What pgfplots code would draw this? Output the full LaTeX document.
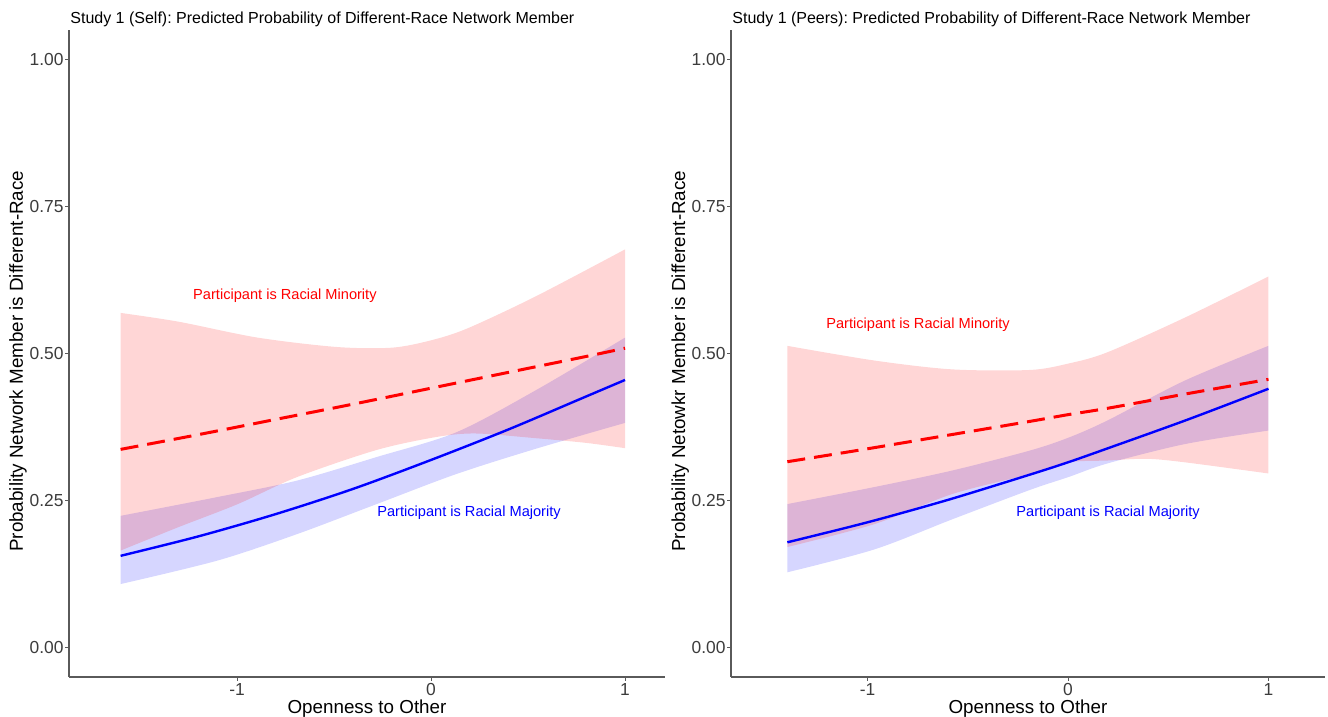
\documentclass[border=0pt]{standalone}
\usepackage{pgfplots}
\pgfplotsset{compat=1.18}
\usepgfplotslibrary{fillbetween}
\usepackage{fontspec}
\setmainfont{Liberation Sans}
\frenchspacing
\definecolor{axgray}{RGB}{90,90,90}
\definecolor{ticktext}{RGB}{60,60,60}
\pgfplotsset{
  ggstyle/.style={
    scale only axis,
    width=298pt, height=323.5pt,
    ymin=-0.05, ymax=1.05,
    axis x line*=bottom, axis y line*=left,
    axis line style={axgray, line width=0.6pt, -},
    tick align=outside,
    major tick length=2pt,
    tick style={axgray, line width=0.5pt},
    ytick={0,0.25,0.5,0.75,1},
    xtick={-1,0,1},
    yticklabel={\pgfmathprintnumber[fixed,fixed zerofill,precision=2]{\tick}},
    /pgf/number format/assume math mode=true,
    ticklabel style={font=\fontsize{8.7}{10}\selectfont, text=ticktext},
    yticklabel style={xshift=2.8pt},
    xticklabel style={yshift=2.3pt},
    every axis x label/.style={at={(axis description cs:0.5,-0.049)}, anchor=center, font=\fontsize{9.4}{11}\selectfont},
    every axis y label/.style={at={(axis description cs:-0.0856,0.488)}, rotate=90, anchor=center, font=\fontsize{9.4}{11}\selectfont},
    every axis title shift=0pt,
    title style={at={(axis description cs:0,1)}, anchor=base west, yshift=3pt, xshift=0.5pt, inner sep=0pt, font=\fontsize{8}{9.5}\selectfont},
    clip=false,
  }
}
\begin{document}
\begin{tikzpicture}[x=1pt,y=1pt]
% ---------------- Left panel ----------------
\begin{axis}[ggstyle, at={(34.5pt,20pt)}, anchor=south west,
  xmin=-1.866, xmax=1.206,
  title={Study 1 (Self): Predicted Probability of Different-Race Network Member},
  xlabel={Openness to Other},
  ylabel={Probability Network Member is Different-Race}]
\addplot[draw=none, name path=BU, smooth] coordinates {(-1.6,0.224) (-1.1,0.256) (-0.69,0.284) (-0.28,0.324) (0.13,0.366) (0.54,0.4375) (1,0.527)};
\addplot[draw=none, name path=BL, smooth] coordinates {(-1.6,0.108) (-1.1,0.148) (-0.69,0.193) (-0.28,0.244) (0.13,0.295) (0.54,0.338) (1,0.382)};
\addplot[fill=blue, fill opacity=0.16, draw=none] fill between[of=BU and BL];
\addplot[draw=none, name path=RU, smooth] coordinates {(-1.6,0.569) (-1.3,0.554) (-0.894,0.527) (-0.484,0.511) (-0.198,0.510) (0.007,0.523) (0.19,0.543) (0.539,0.597) (1,0.677)};
\addplot[draw=none, name path=RL, smooth] coordinates {(-1.6,0.165) (-1.3,0.205) (-0.996,0.244) (-0.69,0.290) (-0.28,0.336) (0.027,0.358) (0.23,0.364) (0.54,0.356) (0.8,0.348) (1,0.339)};
\addplot[fill=red, fill opacity=0.16, draw=none] fill between[of=RU and RL];
\addplot[red, line width=1.5pt, dash pattern=on 9pt off 4.5pt, smooth] coordinates {(-1.6,0.337) (-1.2,0.362) (-0.8,0.388) (-0.4,0.414) (0,0.441) (0.4,0.468) (0.8,0.495) (1,0.509)};
\addplot[blue, line width=1.2pt, smooth] coordinates {(-1.6,0.156) (-1.2,0.189) (-0.8,0.227) (-0.4,0.270) (0,0.319) (0.4,0.371) (0.8,0.427) (1,0.455)};
\node[text=red, font=\fontsize{7.3}{9}\selectfont] at (axis cs:-0.753,0.598) {Participant is Racial Minority};
\node[text=blue, font=\fontsize{7.3}{9}\selectfont] at (axis cs:0.196,0.23) {Participant is Racial Majority};
\end{axis}
% ---------------- Right panel ----------------
\begin{axis}[ggstyle, at={(365.5pt,20pt)}, anchor=south west, width=297pt,
  xmin=-1.681, xmax=1.282,
  title={Study 1 (Peers): Predicted Probability of Different-Race Network Member},
  xlabel={Openness to Other},
  ylabel={Probability Netowkr Member is Different-Race}]
\addplot[draw=none, name path=BU, smooth] coordinates {(-1.4,0.244) (-0.965,0.273) (-0.578,0.301) (-0.19,0.335) (0.003,0.357) (0.196,0.386) (0.583,0.454) (1,0.513)};
\addplot[draw=none, name path=BL, smooth] coordinates {(-1.4,0.128) (-0.965,0.167) (-0.578,0.218) (-0.19,0.268) (0.003,0.290) (0.196,0.313) (0.583,0.346) (1,0.369)};
\addplot[fill=blue, fill opacity=0.16, draw=none] fill between[of=BU and BL];
\addplot[draw=none, name path=RU, smooth] coordinates {(-1.4,0.513) (-0.965,0.488) (-0.578,0.473) (-0.19,0.472) (0.003,0.483) (0.196,0.502) (0.583,0.561) (1,0.631)};
\addplot[draw=none, name path=RL, smooth] coordinates {(-1.4,0.171) (-0.965,0.210) (-0.578,0.261) (-0.19,0.295) (0.003,0.315) (0.196,0.318) (0.39,0.321) (0.583,0.315) (1,0.296)};
\addplot[fill=red, fill opacity=0.16, draw=none] fill between[of=RU and RL];
\addplot[red, line width=1.5pt, dash pattern=on 9pt off 4.5pt, smooth] coordinates {(-1.4,0.316) (-1.0,0.338) (-0.6,0.361) (-0.2,0.384) (0,0.396) (0.2,0.407) (0.6,0.432) (1,0.456)};
\addplot[blue, line width=1.2pt, smooth] coordinates {(-1.4,0.179) (-1.0,0.213) (-0.6,0.251) (-0.2,0.293) (0,0.315) (0.2,0.339) (0.6,0.388) (1,0.440)};
\node[text=red, font=\fontsize{7.3}{9}\selectfont] at (axis cs:-0.748,0.549) {Participant is Racial Minority};
\node[text=blue, font=\fontsize{7.3}{9}\selectfont] at (axis cs:0.2,0.23) {Participant is Racial Majority};
\end{axis}
\pgfresetboundingbox
\path (0,0) rectangle (664pt,358.5pt);
\end{tikzpicture}
\end{document}
